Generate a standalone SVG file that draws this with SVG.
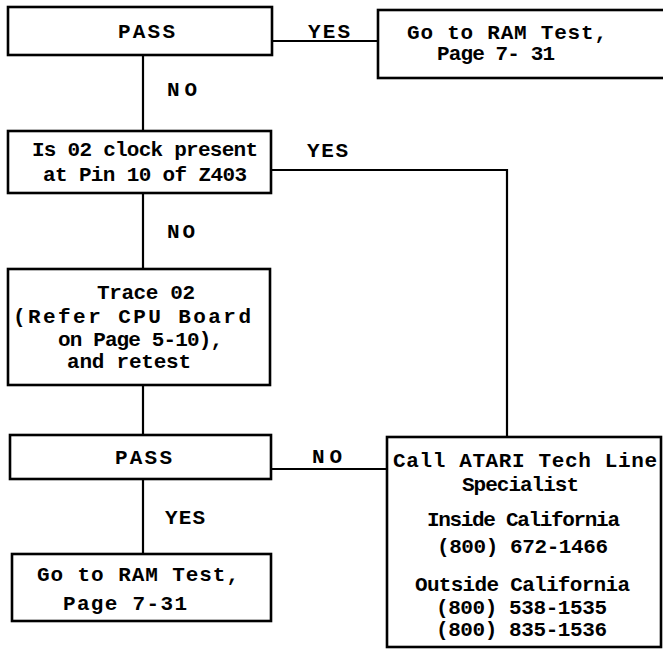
<svg xmlns="http://www.w3.org/2000/svg" width="663" height="650" viewBox="0 0 663 650">
<style>
.box{fill:#fff;stroke:#000;stroke-width:2.6}
.ln{fill:none;stroke:#000;stroke-width:2.2}
text{font-family:"Liberation Mono","Courier New",monospace;font-size:21px;font-weight:bold;fill:#000}
</style>
<rect width="663" height="650" fill="#fff"/>
<g id="connectors">
<path class="ln" d="M143,55 V131"/>
<path class="ln" d="M143,193 V269"/>
<path class="ln" d="M143,385 V435"/>
<path class="ln" d="M143,479 V554"/>
<path class="ln" d="M272,41 H378"/>
<path class="ln" d="M271,170 H507 V437"/>
<path class="ln" d="M271,469 H387"/>
<text x="308" y="38" textLength="42">YES</text>
<text x="167" y="96" textLength="30">NO</text>
<text x="307" y="157" textLength="41">YES</text>
<text x="167" y="238" textLength="28">NO</text>
<text x="312" y="463" textLength="30">NO</text>
<text x="165" y="524" textLength="40">YES</text>
</g>
<g id="pass1">
<rect class="box" x="8" y="7" width="264" height="48"/>
<text x="118" y="38" textLength="57">PASS</text>
</g>
<g id="ram1">
<rect class="box" x="378" y="10" width="310" height="68"/>
<text x="407" y="39" textLength="200">Go to RAM Test,</text>
<text x="437" y="60" textLength="118">Page 7- 31</text>
</g>
<g id="clock">
<rect class="box" x="8" y="131" width="263" height="62"/>
<text x="32" y="156" textLength="226">Is 02 clock present</text>
<text x="43" y="181" textLength="204">at Pin 10 of Z403</text>
</g>
<g id="trace">
<rect class="box" x="8" y="269" width="262" height="116"/>
<text x="97" y="299" textLength="98">Trace 02</text>
<text x="13" y="323" textLength="238">(Refer CPU Board</text>
<text x="58" y="346" textLength="165">on Page 5-10),</text>
<text x="67" y="368" textLength="124">and retest</text>
</g>
<g id="pass2">
<rect class="box" x="10" y="435" width="261" height="44"/>
<text x="115" y="464" textLength="57">PASS</text>
</g>
<g id="ram2">
<rect class="box" x="12" y="554" width="259" height="67"/>
<text x="37" y="581" textLength="202">Go to RAM Test,</text>
<text x="63" y="610" textLength="124">Page 7-31</text>
</g>
<g id="call">
<rect class="box" x="387" y="437" width="274" height="210"/>
<text x="393" y="467" textLength="264">Call ATARI Tech Line</text>
<text x="462" y="491" textLength="117">Specialist</text>
<text x="427" y="526" textLength="193">Inside California</text>
<text x="437" y="553" textLength="171">(800) 672-1466</text>
<text x="415" y="591" textLength="215">Outside California</text>
<text x="436" y="614" textLength="171">(800) 538-1535</text>
<text x="436" y="636" textLength="171">(800) 835-1536</text>
</g>
</svg>
